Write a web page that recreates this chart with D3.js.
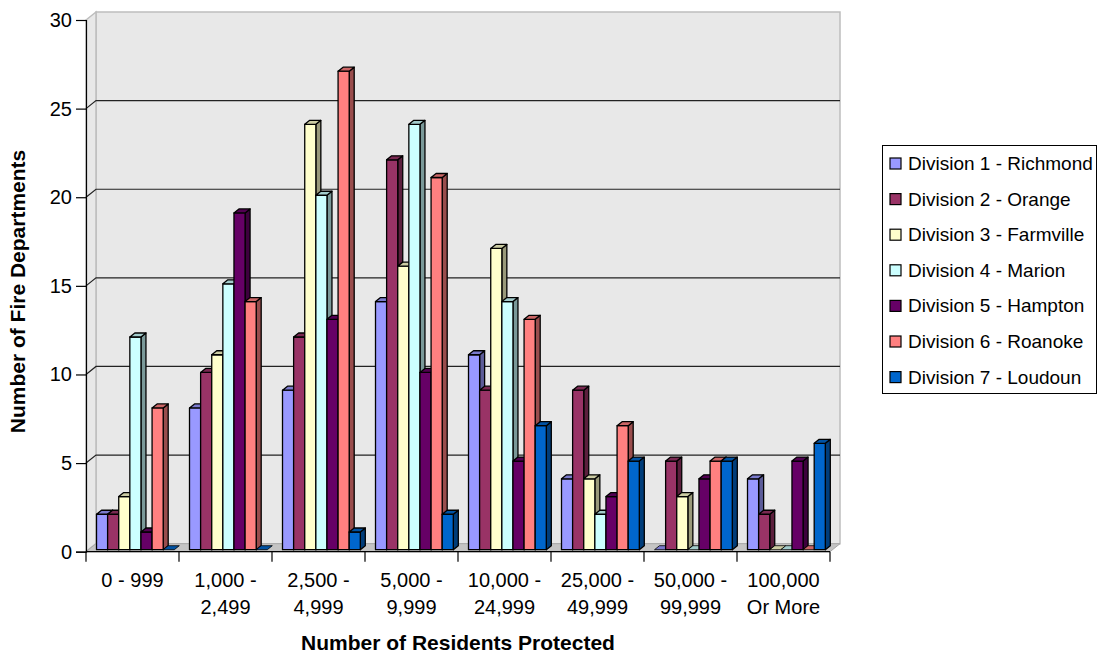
<!DOCTYPE html>
<html>
<head>
<meta charset="utf-8">
<script src="https://cdn.jsdelivr.net/npm/d3@7"></script>
<style>
  html, body { margin: 0; padding: 0; background: #fff; }
  svg { display: block; font-family: "Liberation Sans", Arial, sans-serif; }
</style>
</head>
<body>
<svg id="chart" width="1101" height="656"></svg>
<script>
// ---------- data ----------
const categories = ["0 - 999", "1,000 - 2,499", "2,500 - 4,999", "5,000 - 9,999",
                    "10,000 - 24,999", "25,000 - 49,999", "50,000 - 99,999", "100,000 Or More"];
const categoryLines = [["0 - 999"], ["1,000 -", "2,499"], ["2,500 -", "4,999"], ["5,000 -", "9,999"],
                       ["10,000 -", "24,999"], ["25,000 -", "49,999"], ["50,000 -", "99,999"], ["100,000", "Or More"]];
const seriesNames = ["Division 1 - Richmond", "Division 2 - Orange", "Division 3 - Farmville",
                     "Division 4 - Marion", "Division 5 - Hampton", "Division 6 - Roanoke", "Division 7 - Loudoun"];
const division1 = [2, 8, 9, 14, 11, 4, 0, 4];
const division2 = [2, 10, 12, 22, 9, 9, 5, 2];
const division3 = [3, 11, 24, 16, 17, 4, 3, 0];
const division4 = [12, 15, 20, 24, 14, 2, 0, 0];
const division5 = [1, 19, 13, 10, 5, 3, 4, 5];
const division6 = [8, 14, 27, 21, 13, 7, 5, 0];
const division7 = [0, 0, 1, 2, 7, 5, 5, 6];
const seriesValues = [division1, division2, division3, division4, division5, division6, division7];
const seriesColors = ["#9999FF", "#993366", "#FFFFCC", "#CCFFFF", "#660066", "#FF8080", "#0066CC"];
const yTicks = [0, 5, 10, 15, 20, 25, 30];
const xTitle = "Number of Residents Protected";
const yTitle = "Number of Fire Departments";

// ---------- layout ----------
(function () {
const svg = d3.select("#chart");
const pLeft = 86, pRight = 830, pTop = 20, pBottom = 551.7;
const wallDx = 10, wallDy = -8;       // depth projection of back wall
const barDx = 5, barDy = -4;          // depth of a single bar
const barLift = 2;                    // bars sit slightly behind the front edge

const x = d3.scaleBand().domain(categories).range([pLeft, pRight]).padding(0);
const y = d3.scaleLinear().domain([0, 30]).range([pBottom, pTop]);
const barW = x.bandwidth() * 0.1195;
const groupOff = x.bandwidth() * 0.113;

const shade = (c, k) => { const r = d3.rgb(c); return d3.rgb(r.r * k, r.g * k, r.b * k).toString(); };

// back wall
svg.append("polygon")
  .attr("points", [[pLeft + wallDx, y(30) + wallDy], [pRight + wallDx, y(30) + wallDy],
                   [pRight + wallDx, y(0) + wallDy], [pLeft + wallDx, y(0) + wallDy]].join(" "))
  .attr("fill", "#E8E8E8").attr("stroke", "#BDBDBD").attr("stroke-width", 1.5);
// side wall
svg.append("polygon")
  .attr("points", [[pLeft, y(30)], [pLeft + wallDx, y(30) + wallDy],
                   [pLeft + wallDx, y(0) + wallDy], [pLeft, y(0)]].join(" "))
  .attr("fill", "#E8E8E8").attr("stroke", "#BDBDBD").attr("stroke-width", 1.5);
// floor
svg.append("polygon")
  .attr("points", [[pLeft, y(0)], [pLeft + wallDx, y(0) + wallDy],
                   [pRight + wallDx, y(0) + wallDy], [pRight, y(0)]].join(" "))
  .attr("fill", "#C4C4C4").attr("stroke", "#A8A8A8").attr("stroke-width", 1);

// gridlines
const grid = svg.append("g");
yTicks.filter(t => t > 0 && t < 30).forEach(t => {
  grid.append("polyline")
    .attr("points", [[pLeft, y(t)], [pLeft + wallDx, y(t) + wallDy], [pRight + wallDx, y(t) + wallDy]].join(" "))
    .attr("fill", "none").attr("stroke", "#222").attr("stroke-width", 1.2);
});

// bars
const barsG = svg.append("g");
categories.forEach((c, ci) => {
  seriesValues.forEach((vals, si) => {
    const v = vals[ci];
    const x0 = x(c) + groupOff + si * barW, x1 = x0 + barW;
    const yt = y(v) - barLift, yb = y(0) - barLift;
    const col = seriesColors[si];
    const g = barsG.append("g").attr("stroke", "#000").attr("stroke-width", 1.3).attr("stroke-linejoin", "round");
    if (v > 0) {
      g.append("polygon")
        .attr("points", [[x1, yt], [x1 + barDx, yt + barDy], [x1 + barDx, yb + barDy], [x1, yb]].join(" "))
        .attr("fill", shade(col, 0.6));
      g.append("rect").attr("x", x0).attr("y", yt).attr("width", barW).attr("height", yb - yt)
        .attr("fill", col);
    }
    g.append("polygon")
      .attr("points", [[x0, yt], [x0 + barDx, yt + barDy], [x1 + barDx, yt + barDy], [x1, yt]].join(" "))
      .attr("fill", shade(col, 0.8))
      .attr("stroke-width", v > 0 ? 1.3 : 0.8);
  });
});

// y axis
const yAxis = svg.append("g").attr("transform", `translate(${pLeft},0)`)
  .call(d3.axisLeft(y).tickValues(yTicks).tickSize(10).tickPadding(4).tickFormat(d3.format("d")));
yAxis.select(".domain").attr("stroke", "#000").attr("stroke-width", 1.2);
yAxis.selectAll(".tick line").attr("stroke", "#000").attr("stroke-width", 1.2);
yAxis.selectAll(".tick text").attr("font-size", 20).attr("fill", "#000")
  .attr("font-family", "Liberation Sans, Arial, sans-serif");

// x axis
const xAxisG = svg.append("g");
xAxisG.append("line").attr("x1", pLeft).attr("x2", pRight).attr("y1", y(0)).attr("y2", y(0))
  .attr("stroke", "#000").attr("stroke-width", 1.2);
const bounds = categories.map(c => x(c)).concat([x(categories[categories.length - 1]) + x.bandwidth()]);
bounds.forEach(b => {
  xAxisG.append("line").attr("x1", b).attr("x2", b).attr("y1", y(0)).attr("y2", y(0) + 10)
    .attr("stroke", "#000").attr("stroke-width", 1.2);
});
categories.forEach((c, ci) => {
  const t = xAxisG.append("text").attr("text-anchor", "middle").attr("font-size", 20).attr("fill", "#000");
  categoryLines[ci].forEach((ln, li) => {
    t.append("tspan").attr("x", x(c) + x.bandwidth() / 2).attr("y", 587 + li * 26.5).text(ln);
  });
});

// axis titles
svg.append("text").attr("x", (pLeft + pRight) / 2).attr("y", 650).attr("text-anchor", "middle")
  .attr("font-size", 21).attr("font-weight", "bold").text(xTitle);
svg.append("text").attr("transform", `translate(25,291.5) rotate(-90)`)
  .attr("text-anchor", "middle").attr("font-size", 21).attr("font-weight", "bold").text(yTitle);

// legend
const leg = svg.append("g");
leg.append("rect").attr("x", 882.5).attr("y", 145.5).attr("width", 214).attr("height", 248)
  .attr("fill", "#fff").attr("stroke", "#000").attr("stroke-width", 1);
seriesNames.forEach((n, i) => {
  const cy = 163.5 + i * 35.6;
  leg.append("rect").attr("x", 890).attr("y", cy - 5.5).attr("width", 11).attr("height", 11)
    .attr("fill", seriesColors[i]).attr("stroke", "#000").attr("stroke-width", 1.2);
  leg.append("text").attr("x", 908).attr("y", cy + 6.5).attr("font-size", 19).attr("fill", "#000").text(n);
});
})();
</script>
</body>
</html>
